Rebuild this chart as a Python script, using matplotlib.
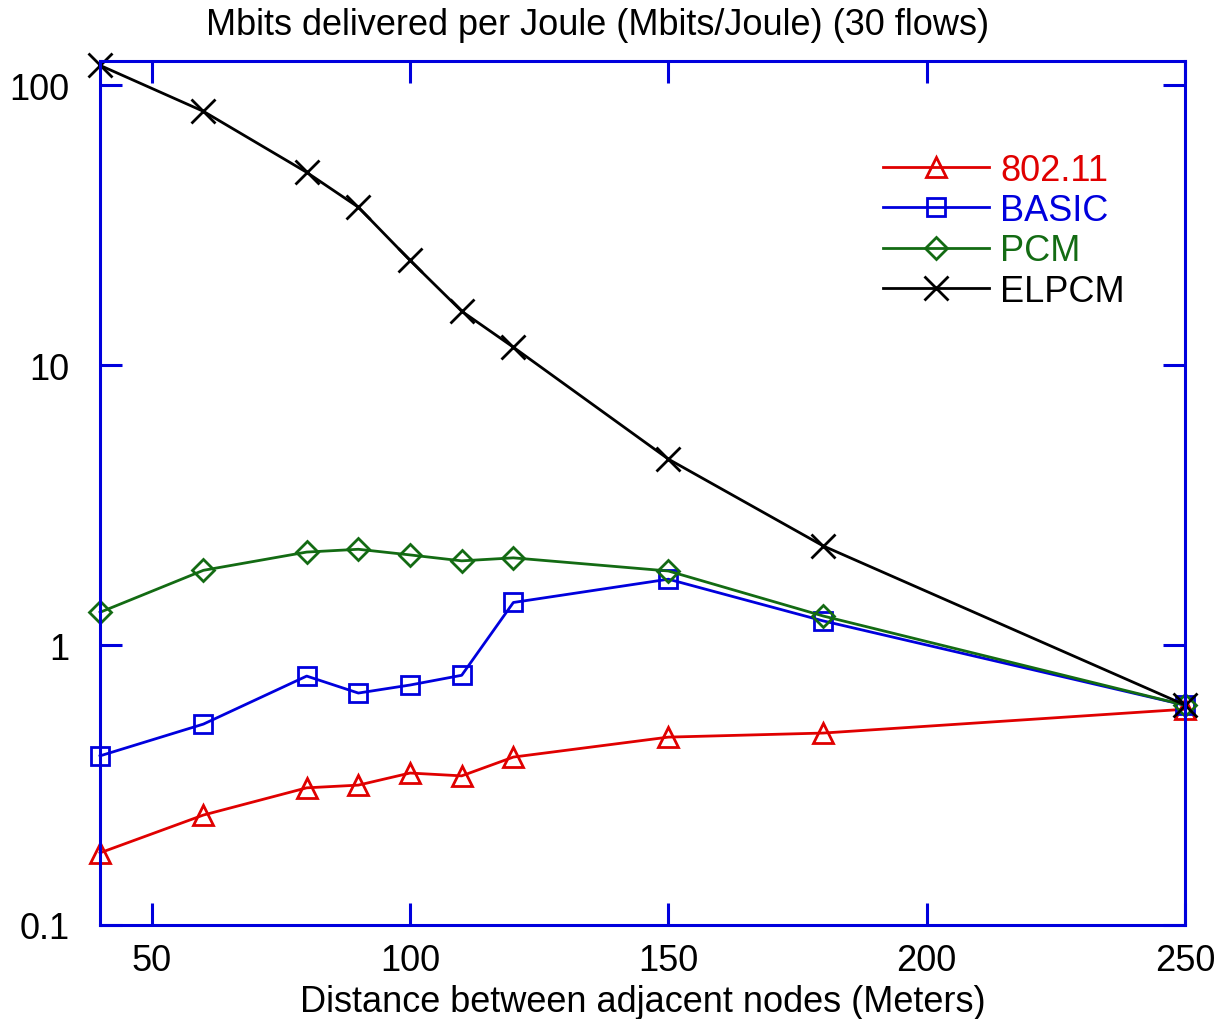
import numpy as np
import matplotlib.pyplot as plt

distance = [40, 60, 80, 90, 100, 110, 120, 150, 180, 250]
ieee80211 = [0.181, 0.247, 0.309, 0.316, 0.349, 0.341, 0.398, 0.469, 0.485, 0.59]
basic = [0.402, 0.522, 0.775, 0.674, 0.720, 0.78, 1.42, 1.72, 1.22, 0.61]
pcm = [1.31, 1.85, 2.15, 2.20, 2.10, 2.0, 2.05, 1.84, 1.27, 0.61]
elpcm = [117.9, 80.8, 48.9, 36.7, 23.7, 15.6, 11.6, 4.62, 2.26, 0.611]

x_ticks = [50, 100, 150, 200, 250]
y_ticks = [0.1, 1, 10, 100]
y_tick_labels = ["0.1", "1", "10", "100"]

BLUE = "#0000dd"


def main():
    plt.rcParams["font.family"] = ["Liberation Sans", "DejaVu Sans"]
    fig = plt.figure(figsize=(12.17, 10.20), dpi=100)
    ax = fig.add_axes([0.0822, 0.0922, 0.8915, 0.8468])

    style = dict(lw=2.0, mew=2.0, fillstyle="none", clip_on=False)
    ax.plot(distance, ieee80211, color="#e00000", marker="^", ms=15, label="802.11", **style)
    ax.plot(distance, basic, color=BLUE, marker="s", ms=13, label="BASIC", **style)
    ax.plot(distance, pcm, color="#136b13", marker="D", ms=11, label="PCM", **style)
    ax.plot(distance, elpcm, color="black", marker="x", ms=17, label="ELPCM", **style)

    ax.set_yscale("log")
    ax.set_xlim(40, 250)
    ax.set_ylim(0.1, 122)
    ax.set_xticks(x_ticks)
    ax.set_xticklabels([str(t) for t in x_ticks])
    ax.set_yticks(y_ticks)
    ax.set_yticklabels(y_tick_labels)
    ax.yaxis.set_minor_locator(plt.NullLocator())

    for sp in ax.spines.values():
        sp.set_color(BLUE)
        sp.set_linewidth(2.2)
    ax.tick_params(which="major", direction="in", length=16, width=2.2, color=BLUE,
                   labelsize=26, top=True, right=True)
    ax.tick_params(axis="y", pad=22)
    ax.tick_params(axis="x", pad=13)

    # title is centred on the figure, not on the axes
    fig.text(0.491, 0.975, "Mbits delivered per Joule (Mbits/Joule) (30 flows)",
             fontsize=26, ha="center", va="center")
    ax.set_xlabel("Distance between adjacent nodes (Meters)", fontsize=26, labelpad=4)

    leg = ax.legend(loc="upper left", bbox_to_anchor=(0.708, 0.911), frameon=False,
                    fontsize=26, handlelength=2.95, handletextpad=0.3, labelspacing=0.15,
                    borderaxespad=0)
    for text, line in zip(leg.get_texts(), leg.get_lines()):
        text.set_color(line.get_color())

    plt.savefig("out.png", dpi=100)


if __name__ == '__main__':
    main()
